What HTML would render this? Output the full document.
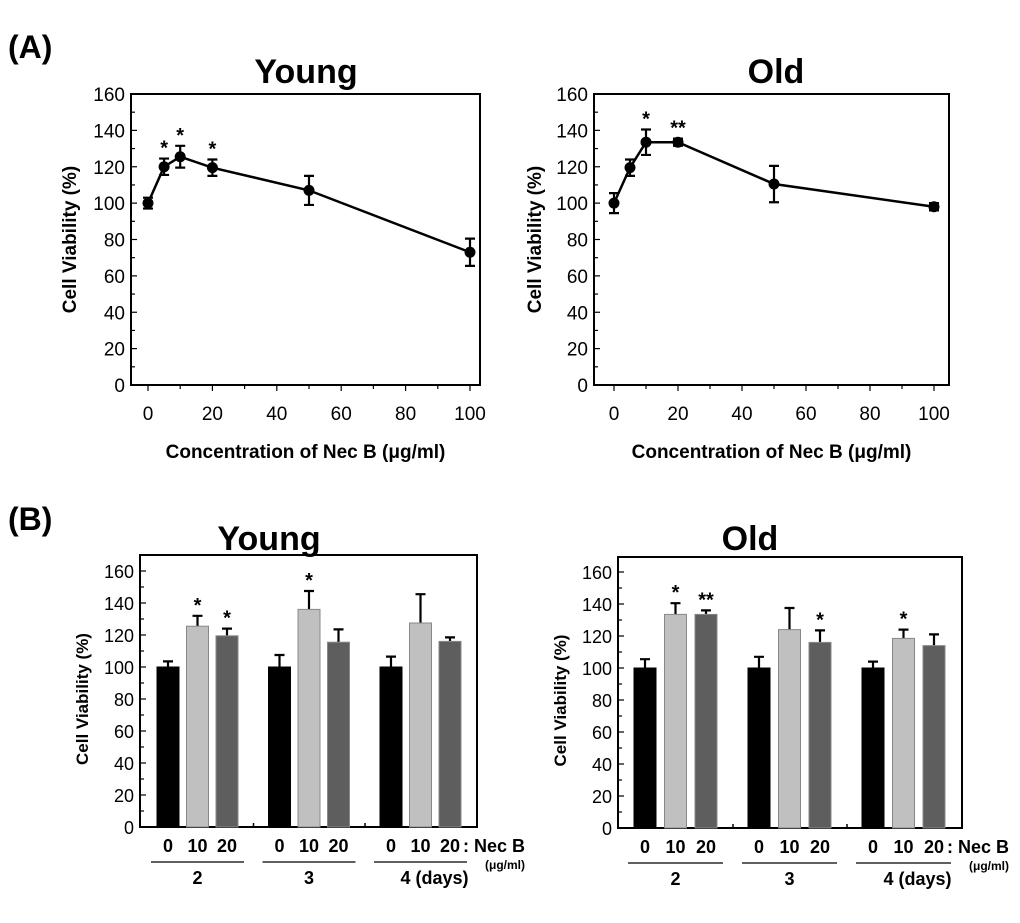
<!DOCTYPE html>
<html><head><meta charset="utf-8"><style>
body{margin:0;background:#fff;width:1020px;height:918px;overflow:hidden}
svg{font-family:"Liberation Sans",Arial,sans-serif}
</style></head><body>
<svg id="fig" width="1020" height="918">
<text x="8" y="58" font-size="32" font-weight="bold">(A)</text>
<text x="8" y="530" font-size="32" font-weight="bold">(B)</text>
</svg>
<script>
const conc = [0, 5, 10, 20, 50, 100];
const youngLine = [100, 120, 125.5, 119.5, 107, 73];
const youngLineErr = [3, 4.5, 6, 4.5, 8, 7.5];
const youngLineSig = ["", "*", "*", "*", "", ""];
const oldLine = [100, 119.5, 133.5, 133.5, 110.5, 98];
const oldLineErr = [5.5, 4.5, 7, 2, 10, 2];
const oldLineSig = ["", "", "*", "**", "", ""];
const xTicks = [0, 20, 40, 60, 80, 100];
const yTicks = [0, 20, 40, 60, 80, 100, 120, 140, 160];
const doses = ["0", "10", "20"];
const days = ["2", "3", "4 (days)"];
const youngBars = [[100, 125.5, 119.5], [100, 136, 115.5], [100, 127.5, 116]];
const youngBarsErr = [[3.5, 6.5, 4.5], [7.5, 11.5, 8], [6.5, 18, 2.5]];
const youngBarsSig = [["", "*", "*"], ["", "*", ""], ["", "", ""]];
const oldBars = [[100, 133.5, 133.5], [100, 124, 116], [100, 118.5, 114]];
const oldBarsErr = [[5.5, 7, 2.5], [7, 13.5, 7.5], [4, 5.5, 7]];
const oldBarsSig = [["", "*", "**"], ["", "", "*"], ["", "*", ""]];

const svg = document.getElementById('fig');
const NS = 'http://www.w3.org/2000/svg';
function mk(tag, attrs, parent){const e=document.createElementNS(NS,tag);for(const k in attrs)e.setAttribute(k,attrs[k]);(parent||svg).appendChild(e);return e;}
function txt(x,y,s,size,opts,parent){const t=mk('text',Object.assign({x:x,y:y,'font-size':size,'text-anchor':'middle'},opts||{}),parent);t.textContent=s;return t;}

function yAxis(g,L,T,R,B0,y,fs){
  for(let v=0;v<=160;v+=10){const yy=y(v);const major=v%20===0;
    const l=mk('line',{x1:L,x2:L+(major?6:4),y1:yy,y2:yy,stroke:'#000','stroke-width':1.2},g);
    }
  yTicks.forEach(v=>{const t=txt(L-6,y(v)+7,String(v),fs,{'text-anchor':'end'},g);
    });
}

function linePanel(name,L,T,R,B,x0,x1,vals,errs,sigs,title,titleX,ylabX){
  const g=mk('g',{});
  const x=v=>x0+(x1-x0)*v/100, y=v=>B-(B-T)*v/160;
  const f=mk('rect',{x:L,y:T,width:R-L,height:B-T,fill:'none',stroke:'#000','stroke-width':2},g);
  
  yAxis(g,L,T,R,B,y,19);
  for(let v=0;v<=100;v+=10){const l=mk('line',{x1:x(v),x2:x(v),y1:B,y2:B+(v%20===0?6:4),stroke:'#000','stroke-width':1.2},g);
    }
  xTicks.forEach(v=>{const t=txt(x(v),B+35,String(v),19,{},g);});
  const p=mk('polyline',{points:conc.map((c,i)=>x(c)+','+y(vals[i])).join(' '),fill:'none',stroke:'#000','stroke-width':2.5},g);
  
  conc.forEach((c,i)=>{const cx=x(c),hi=y(vals[i]+errs[i]),lo=y(vals[i]-errs[i]);
    const e=mk('path',{d:`M${cx},${hi}V${lo}M${cx-5},${hi}h10M${cx-5},${lo}h10`,stroke:'#000','stroke-width':2.2,fill:'none'},g);
    
    const d=mk('circle',{cx:cx,cy:y(vals[i]),r:5.5,fill:'#000'},g);
    
    if(sigs[i]){const s=txt(cx,hi-4,sigs[i],20,{'font-weight':'bold'},g);}
  });
  const t=txt(titleX,83,title,34,{'font-weight':'bold'},g);
  const xl=txt((L+R)/2,458,'Concentration of Nec B (\u03bcg/ml)',19,{'font-weight':'bold'},g);
  const yl=txt(0,0,'Cell Viability (%)',19,{'font-weight':'bold',transform:`translate(${ylabX},${(T+B)/2}) rotate(-90)`},g);
  
}

function barPanel(name,L,T,R,B,y160,g0,gStep,bStep,bw,vals,errs,sigs,title,titleX,ylabX){
  const g=mk('g',{});
  const y=v=>B-(B-y160)*v/160;
  const f=mk('rect',{x:L,y:T,width:R-L,height:B-T,fill:'none',stroke:'#000','stroke-width':2},g);
  
  yAxis(g,L,T,R,B,y,18);
  const fills=['#000','#c0c0c0','#5e5e5e'];
  days.forEach((d,gi)=>{
    const gx=g0+gi*gStep;
    if(gi>0){const tk=mk('line',{x1:gx-15,x2:gx-15,y1:B,y2:B-4,stroke:'#000','stroke-width':1.5},g);}
    doses.forEach((ds,bi)=>{
      const bx=gx+bi*bStep,v=vals[gi][bi],top=y(v),et=y(v+errs[gi][bi]),cx=bx+bw/2;
      const e=mk('path',{d:`M${cx},${top}V${et}M${cx-5},${et}h10`,stroke:'#000','stroke-width':2.2,fill:'none'},g);
      
      const r=mk('rect',{x:bx,y:top,width:bw,height:B-top,fill:fills[bi],stroke:bi?'#888':'#000','stroke-width':1},g);
      
      if(sigs[gi][bi]){const s=txt(cx,et-4,sigs[gi][bi],20,{'font-weight':'bold'},g);}
      const dl=txt(cx,B+25,ds,18,{'font-weight':'bold'},g);
    });
    const ul=mk('line',{x1:gx-6,x2:gx+2*bStep+bw+6,y1:B+35,y2:B+35,stroke:'#000','stroke-width':1.2},g);
    
    const dx=gi===2?gx+bStep+bw/2+14:gx+bStep+bw/2;
    const dl=txt(dx,B+57,d,18,{'font-weight':'bold'},g);
  });
  const nx=g0+2*gStep+2*bStep+bw+2;
  const nb=txt(nx,B+25,': Nec B',18,{'font-weight':'bold','text-anchor':'start'},g);
  const un=txt(nx+42,B+42,'(\u03bcg/ml)',12,{'font-weight':'bold'},g);
  const t=txt(titleX,550,title,34,{'font-weight':'bold'},g);
  const yl=txt(0,0,'Cell Viability (%)',17,{'font-weight':'bold',transform:`translate(${ylabX},${(T+B)/2+8}) rotate(-90)`},g);
  
}

linePanel('young-line-chart',131,94,480,385,148,470,youngLine,youngLineErr,youngLineSig,'Young',306,76);
linePanel('old-line-chart',594,94,949,385,614,934,oldLine,oldLineErr,oldLineSig,'Old',776,541);
barPanel('young-bar-chart',140,555,477,827,571,157,111.5,29.5,22,youngBars,youngBarsErr,youngBarsSig,'Young',269,88);
barPanel('old-bar-chart',618,557,962,828,572,634,114,30.5,22,oldBars,oldBarsErr,oldBarsSig,'Old',750,566);
</script>
</body></html>
